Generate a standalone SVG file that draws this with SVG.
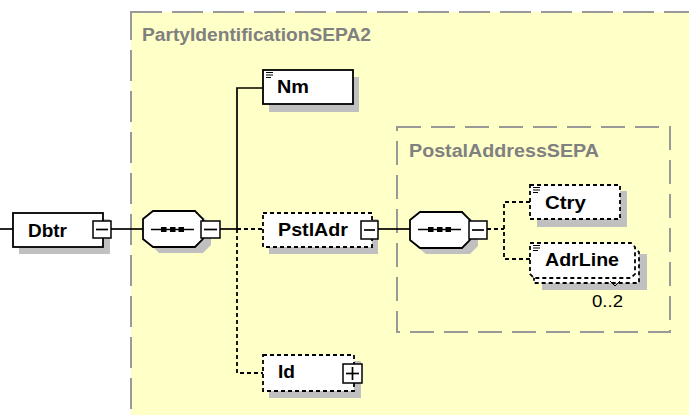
<svg xmlns="http://www.w3.org/2000/svg" width="689" height="415" viewBox="0 0 689 415">
<style>
.lbl{font-family:"Liberation Sans",Arial,sans-serif;font-weight:bold;font-size:18.5px;fill:#000}
.ttl{font-family:"Liberation Sans",Arial,sans-serif;font-weight:bold;font-size:17.5px;fill:#808080}
.card{font-family:"Liberation Sans",Arial,sans-serif;font-size:17px;fill:#000}
.shadow{fill:#c0c0c0}
.box{fill:#fff;stroke:#000;stroke-width:1.8}
.opt{fill:#fff;stroke:#000;stroke-width:1.8;stroke-dasharray:4 3}
.btn{fill:#fff;stroke:#000;stroke-width:1.5}
.ln{stroke:#000;stroke-width:1.7;fill:none}
.dln{stroke:#000;stroke-width:1.8;fill:none;stroke-dasharray:4 3}
.cont{fill:#ffffc8;stroke:#999;stroke-width:2;stroke-dasharray:31 10}
.ic{stroke:#000;stroke-width:1}
</style>
<rect width="689" height="415" fill="#fff"/>
<g id="PartyIdentificationSEPA2">
<rect class="cont" x="131" y="12" width="620" height="460"/>
<text class="ttl" x="142" y="41" textLength="229" lengthAdjust="spacingAndGlyphs">PartyIdentificationSEPA2</text>
</g>
<g id="PostalAddressSEPA">
<rect class="cont" x="397" y="127" width="273" height="205" style="stroke-dasharray:24 10"/>
<text class="ttl" x="409" y="157" textLength="190" lengthAdjust="spacingAndGlyphs">PostalAddressSEPA</text>
</g>
<g id="connectors">
<line class="ln" x1="0" y1="229" x2="13" y2="229"/>
<line class="ln" x1="111" y1="229" x2="143" y2="229"/>
<line class="ln" x1="220" y1="229" x2="237" y2="229"/>
<polyline class="ln" points="237,229 237,88 263,88"/>
<line class="dln" x1="237" y1="229" x2="263" y2="229"/>
<polyline class="dln" points="237,229 237,373 263,373"/>
<line class="ln" x1="378" y1="229" x2="410" y2="229"/>
<line class="dln" x1="487" y1="229" x2="504" y2="229"/>
<polyline class="dln" points="530,202 504,202 504,259 530,259"/>
</g>
<g id="Dbtr">
<rect class="shadow" x="19" y="219" width="91" height="35"/>
<rect class="box" x="13" y="213" width="90" height="34"/>
<text class="lbl" x="28" y="237" textLength="39" lengthAdjust="spacingAndGlyphs">Dbtr</text>
<rect class="btn" x="93" y="221" width="18" height="17"/>
<line class="ln" x1="96" y1="229.5" x2="108" y2="229.5"/>
</g>
<g id="seq1">
<polygon class="shadow" points="159,217 203,217 211,225 211,245 203,253 159,253 151,245 151,225"/>
<polygon class="box" points="153,211 195,211 203,219 203,239 195,247 153,247 143,239 143,219"/>
<line class="ln" x1="151" y1="229.5" x2="194" y2="229.5"/>
<rect x="161" y="227" width="5.5" height="5"/><rect x="170" y="227" width="5.5" height="5"/><rect x="178.5" y="227" width="5.5" height="5"/>
<rect class="btn" x="201" y="221" width="19" height="17"/>
<line class="ln" x1="204" y1="229.5" x2="217" y2="229.5"/>
</g>
<g id="Nm">
<rect class="shadow" x="269" y="77" width="90" height="35"/>
<rect class="box" x="263" y="70" width="90" height="34"/>
<line class="ic" x1="266" y1="72.5" x2="273" y2="72.5"/><line class="ic" x1="266" y1="75" x2="273" y2="75"/><line class="ic" x1="266" y1="77.5" x2="271" y2="77.5"/>
<text class="lbl" x="277" y="93" textLength="32" lengthAdjust="spacingAndGlyphs">Nm</text>
</g>
<g id="PstlAdr">
<rect class="shadow" x="269" y="219" width="109" height="35"/>
<rect class="opt" x="263" y="213" width="109" height="34"/>
<text class="lbl" x="278" y="236" textLength="70" lengthAdjust="spacingAndGlyphs">PstlAdr</text>
<rect class="btn" x="361" y="221" width="17" height="18"/>
<line class="ln" x1="364" y1="230" x2="375" y2="230"/>
</g>
<g id="Id">
<rect class="shadow" x="269" y="361" width="92" height="37"/>
<rect class="opt" x="263" y="355" width="91" height="36"/>
<text class="lbl" x="278" y="378" textLength="17" lengthAdjust="spacingAndGlyphs">Id</text>
<rect class="btn" x="343" y="364" width="19" height="19"/>
<line class="ln" x1="346" y1="373.5" x2="359" y2="373.5"/>
<line class="ln" x1="352.5" y1="367" x2="352.5" y2="380"/>
</g>
<g id="seq2">
<polygon class="shadow" points="426,218 470,218 478,226 478,246 470,254 426,254 416,246 416,226"/>
<polygon class="box" points="420,212 462,212 470,220 470,240 462,248 420,248 410,240 410,220"/>
<line class="ln" x1="418" y1="229.5" x2="461" y2="229.5"/>
<rect x="428" y="227" width="5.5" height="5"/><rect x="437" y="227" width="5.5" height="5"/><rect x="445.5" y="227" width="5.5" height="5"/>
<rect class="btn" x="469" y="221" width="18" height="18"/>
<line class="ln" x1="472" y1="230" x2="484" y2="230"/>
</g>
<g id="Ctry">
<rect class="shadow" x="537" y="191" width="90" height="36"/>
<rect class="opt" x="530" y="185" width="90" height="34"/>
<line class="ic" x1="533" y1="187.5" x2="540" y2="187.5"/><line class="ic" x1="533" y1="190" x2="540" y2="190"/><line class="ic" x1="533" y1="192.5" x2="538" y2="192.5"/>
<text class="lbl" x="545" y="209" textLength="41" lengthAdjust="spacingAndGlyphs">Ctry</text>
</g>
<g id="AdrLine">
<rect class="shadow" x="542" y="254" width="105" height="36"/>
<polygon class="opt" points="534,248 635,248 639,252 639,283 534,283"/>
<polygon class="opt" points="530,243 631,243 635,247 635,274 631,278 534,278 530,274"/>
<line class="ic" x1="533" y1="245.5" x2="540" y2="245.5"/><line class="ic" x1="533" y1="248" x2="540" y2="248"/><line class="ic" x1="533" y1="250.5" x2="538" y2="250.5"/>
<text class="lbl" x="545" y="266" textLength="74" lengthAdjust="spacingAndGlyphs">AdrLine</text>
<polyline class="ln" style="stroke-width:1" points="610,281 615,286 620,281"/>
<text class="card" x="592" y="307" textLength="31" lengthAdjust="spacingAndGlyphs">0..2</text>
</g>
</svg>
